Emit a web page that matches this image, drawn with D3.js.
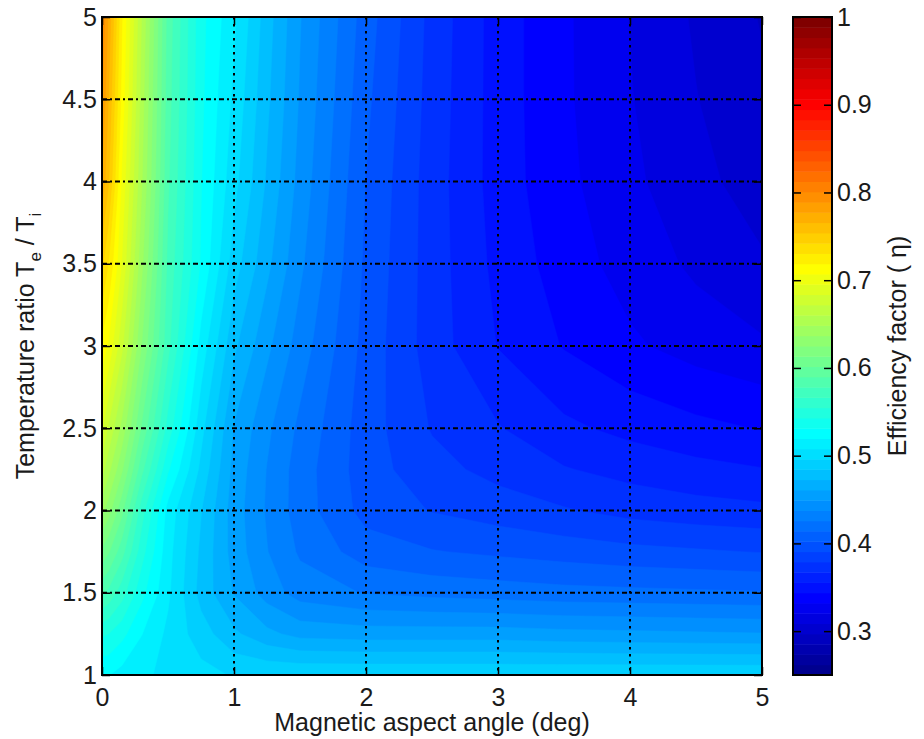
<!DOCTYPE html>
<html><head><meta charset="utf-8">
<script src="https://cdn.jsdelivr.net/npm/d3@7"></script>
<style>
body{margin:0;background:#fff;}
text{font-family:"Liberation Sans",Arial,Helvetica,sans-serif;fill:#1a1a1a;}
</style>
</head><body>
<svg id="chart" width="924" height="739"></svg>
<script>
// ---- data ----
const angles = [0, 0.05, 0.15, 0.3, 0.5, 0.75, 1, 1.25, 1.5, 2, 2.5, 3, 3.5, 4, 4.5, 5];   // deg
const ratios = [5, 4.5, 4, 3.5, 3, 2.5, 2.25, 2, 1.75, 1.5, 1.25, 1];                      // Te/Ti, top to bottom
const eta_T5_0   = [0.80, 0.775, 0.72, 0.66, 0.585, 0.535, 0.51, 0.478, 0.45, 0.408, 0.375, 0.35, 0.334, 0.32, 0.307, 0.296];
const eta_T4_5   = [0.79, 0.765, 0.715, 0.655, 0.583, 0.534, 0.505, 0.475, 0.448, 0.405, 0.374, 0.35, 0.334, 0.321, 0.309, 0.299];
const eta_T4_0   = [0.775, 0.755, 0.705, 0.65, 0.58, 0.532, 0.50, 0.471, 0.445, 0.402, 0.373, 0.35, 0.335, 0.323, 0.312, 0.303];
const eta_T3_5   = [0.745, 0.73, 0.695, 0.64, 0.575, 0.53, 0.49, 0.464, 0.44, 0.40, 0.373, 0.352, 0.338, 0.327, 0.318, 0.31];
const eta_T3_0   = [0.715, 0.705, 0.675, 0.625, 0.57, 0.515, 0.475, 0.452, 0.432, 0.398, 0.373, 0.355, 0.343, 0.334, 0.327, 0.322];
const eta_T2_5   = [0.685, 0.67, 0.645, 0.60, 0.55, 0.50, 0.46, 0.44, 0.423, 0.396, 0.378, 0.368, 0.358, 0.352, 0.347, 0.343];
const eta_T2_25  = [0.665, 0.652, 0.627, 0.582, 0.533, 0.493, 0.457, 0.437, 0.42, 0.396, 0.383, 0.375, 0.368, 0.363, 0.359, 0.356];
const eta_T2_0   = [0.64, 0.63, 0.605, 0.56, 0.515, 0.485, 0.455, 0.436, 0.42, 0.398, 0.39, 0.385, 0.38, 0.375, 0.372, 0.37];
const eta_T1_75  = [0.61, 0.603, 0.583, 0.548, 0.512, 0.482, 0.456, 0.438, 0.424, 0.408, 0.403, 0.40, 0.397, 0.394, 0.392, 0.39];
const eta_T1_5   = [0.58, 0.575, 0.56, 0.535, 0.51, 0.48, 0.46, 0.444, 0.432, 0.425, 0.422, 0.42, 0.418, 0.417, 0.416, 0.415];
const eta_T1_25  = [0.545, 0.543, 0.535, 0.52, 0.505, 0.49, 0.475, 0.464, 0.457, 0.455, 0.455, 0.455, 0.453, 0.452, 0.451, 0.45];
const eta_T1_0   = [0.52, 0.52, 0.515, 0.51, 0.505, 0.50, 0.495, 0.495, 0.495, 0.495, 0.495, 0.495, 0.495, 0.495, 0.495, 0.495];
const xTicks = [0, 1, 2, 3, 4, 5];
const yTicks = [1, 1.5, 2, 2.5, 3, 3.5, 4, 4.5, 5];
const cTicks = [0.3, 0.4, 0.5, 0.6, 0.7, 0.8, 0.9, 1];
const cRange = [0.25, 1];

const rows = [eta_T5_0, eta_T4_5, eta_T4_0, eta_T3_5, eta_T3_0, eta_T2_5, eta_T2_25, eta_T2_0, eta_T1_75, eta_T1_5, eta_T1_25, eta_T1_0];

// ---- MATLAB jet(64) colormap ----
function jet(m) {
  const n = Math.ceil(m / 4);
  const u = [];
  for (let i = 1; i <= n; i++) u.push(i / n);
  for (let i = 1; i < n; i++) u.push(1);
  for (let i = n; i >= 1; i--) u.push(i / n);
  const off = Math.ceil(n / 2) - (m % 4 === 1 ? 1 : 0);
  const cmap = Array.from({length: m}, () => [0, 0, 0]);
  u.forEach((v, k) => {
    const g = off + k + 1, r = g + n, b = g - n;
    if (g >= 1 && g <= m) cmap[g - 1][1] = v;
    if (r >= 1 && r <= m) cmap[r - 1][0] = v;
    if (b >= 1 && b <= m) cmap[b - 1][2] = v;
  });
  return cmap.map(c => d3.rgb(c[0] * 255, c[1] * 255, c[2] * 255).formatHex());
}
const NC = 64;
const colors = jet(NC);
const step = (cRange[1] - cRange[0]) / NC;
const levels = d3.range(NC).map(k => cRange[0] + k * step);

// ---- layout ----
const svg = d3.select("#chart");
const L = 102, R = 762, T = 17, B = 675;
const x = d3.scaleLinear().domain([0, 5]).range([L, R]);
const y = d3.scaleLinear().domain([1, 5]).range([B, T]);

// ---- filled contours ----
const nx = angles.length, ny = ratios.length;
const values = [];
rows.forEach(r => r.forEach(v => values.push(v)));
const ix = d3.scaleLinear().domain(d3.range(nx)).range(angles);
const iy = d3.scaleLinear().domain(d3.range(ny)).range(ratios);
const proj = d3.geoTransform({
  point: function(px, py) {
    const xi = Math.max(0, Math.min(nx - 1, px - 0.5));
    const yi = Math.max(0, Math.min(ny - 1, py - 0.5));
    this.stream.point(x(ix(xi)), y(iy(yi)));
  }
});
const path = d3.geoPath(proj);
const contours = d3.contours().size([nx, ny]).thresholds(levels)(values);
const colorOf = d => colors[Math.min(NC - 1, Math.round((d.value - cRange[0]) / step))];
const gC = svg.append("g");
gC.append("rect").attr("x", L).attr("y", T).attr("width", R - L).attr("height", B - T).attr("fill", colors[0]);
gC.selectAll("path").data(contours).join("path")
  .attr("d", path)
  .attr("fill", colorOf)
  .attr("stroke", colorOf)
  .attr("stroke-width", 0.5);

// ---- grid ----
const gG = svg.append("g").attr("stroke", "#000").attr("stroke-width", 2).attr("fill", "none");
gG.selectAll("line.v").data(xTicks.filter(v => v > 0 && v < 5)).join("line")
  .attr("x1", d => x(d)).attr("x2", d => x(d)).attr("y1", T).attr("y2", B)
  .attr("stroke-dasharray", "2.5,4.5");
gG.selectAll("line.h").data(yTicks.filter(v => v > 1 && v < 5)).join("line")
  .attr("y1", d => y(d)).attr("y2", d => y(d)).attr("x1", L).attr("x2", R)
  .attr("stroke-dasharray", "5,3,2,3");

// ---- axes ----
function styleAxis(g) {
  g.select(".domain").remove();
  g.selectAll(".tick line").attr("stroke", "#000").attr("stroke-width", 1.5);
  g.selectAll(".tick text").attr("font-size", 25).attr("fill", "#1a1a1a")
    .style("font-family", '"Liberation Sans", Arial, sans-serif');
}
svg.append("g").attr("transform", `translate(0,${B})`)
  .call(d3.axisBottom(x).tickValues(xTicks).tickFormat(d3.format("d")).tickSize(-8).tickPadding(13))
  .call(styleAxis);
svg.append("g").attr("transform", `translate(0,${T})`)
  .call(d3.axisTop(x).tickValues(xTicks).tickFormat("").tickSize(-8))
  .call(styleAxis);
svg.append("g").attr("transform", `translate(${L},0)`)
  .call(d3.axisLeft(y).tickValues(yTicks).tickFormat(d => d3.format("")(d)).tickSize(-8).tickPadding(5))
  .call(styleAxis);
svg.append("g").attr("transform", `translate(${R},0)`)
  .call(d3.axisRight(y).tickValues(yTicks).tickFormat("").tickSize(-8))
  .call(styleAxis);
svg.append("rect").attr("x", L).attr("y", T).attr("width", R - L).attr("height", B - T)
  .attr("fill", "none").attr("stroke", "#000").attr("stroke-width", 2);

// ---- axis titles ----
svg.append("text").attr("x", (L + R) / 2).attr("y", 731).attr("text-anchor", "middle")
  .attr("font-size", 25).text("Magnetic aspect angle (deg)");
const yt = svg.append("text").attr("transform", `translate(34,${(T + B) / 2}) rotate(-90)`)
  .attr("text-anchor", "middle").attr("font-size", 25);
yt.append("tspan").text("Temperature ratio T");
yt.append("tspan").attr("font-size", 17).attr("dy", 7).text("e");
yt.append("tspan").attr("dy", -7).text(" / T");
yt.append("tspan").attr("font-size", 17).attr("dy", 7).text("i");

// ---- colorbar ----
const CL = 793, CR = 832;
const yc = d3.scaleLinear().domain(cRange).range([B, T]);
svg.append("g").selectAll("rect").data(levels).join("rect")
  .attr("x", CL).attr("width", CR - CL)
  .attr("y", d => yc(d + step)).attr("height", d => yc(d) - yc(d + step) + 0.5)
  .attr("fill", (d, i) => colors[i]);
svg.append("g").attr("transform", `translate(${CR},0)`)
  .call(d3.axisRight(yc).tickValues(cTicks).tickFormat(d => d3.format("")(d)).tickSize(-8).tickPadding(5))
  .call(styleAxis);
svg.append("g").attr("transform", `translate(${CL},0)`)
  .call(d3.axisLeft(yc).tickValues(cTicks).tickFormat("").tickSize(-8))
  .call(styleAxis);
svg.append("rect").attr("x", CL).attr("y", T).attr("width", CR - CL).attr("height", B - T)
  .attr("fill", "none").attr("stroke", "#000").attr("stroke-width", 2);
svg.append("text").attr("transform", `translate(906,${(T + B) / 2}) rotate(-90)`)
  .attr("text-anchor", "middle").attr("font-size", 25).text("Efficiency factor ( η)");
</script>
</body></html>
